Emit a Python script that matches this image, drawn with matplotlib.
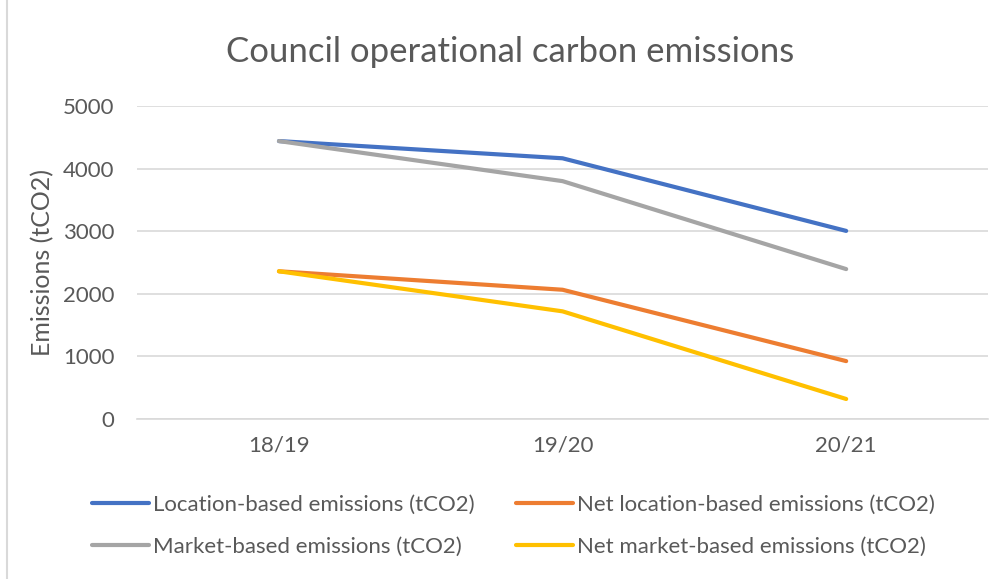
import matplotlib.pyplot as plt
from matplotlib.lines import Line2D

years = ["18/19", "19/20", "20/21"]
location_based = [4440, 4165, 3005]
net_location_based = [2360, 2065, 925]
market_based = [4440, 3800, 2395]
net_market_based = [2360, 1720, 320]

TEXT = "#595959"
GRID = "#D9D9D9"

plt.rcParams["font.family"] = ["Lato", "DejaVu Sans"]

fig = plt.figure(figsize=(10.01, 5.79), dpi=100)
ax = fig.add_axes([0.137, 0.2763, 0.850, 0.5406])

x = range(len(years))
series = [
    ("Location-based emissions (tCO2)", location_based, "#4472C4"),
    ("Net location-based emissions (tCO2)", net_location_based, "#ED7D31"),
    ("Market-based emissions (tCO2)", market_based, "#A5A5A5"),
    ("Net market-based emissions (tCO2)", net_market_based, "#FFC000"),
]
lines = {}
for label, values, color in series:
    (ln,) = ax.plot(x, values, color=color, lw=3.0, solid_capstyle="round",
                    solid_joinstyle="round", label=label)
    lines[label] = ln

ax.set_xlim(-0.5, 2.5)
ax.set_ylim(0, 5000)
ax.set_yticks(range(0, 5001, 1000))
ax.set_xticks(list(x))
ax.set_xticklabels(years)
ax.grid(axis="y", color=GRID, lw=1.2)
ax.set_axisbelow(True)
for s in ["top", "right", "left"]:
    ax.spines[s].set_visible(False)
ax.spines["bottom"].set_color(GRID)
ax.spines["bottom"].set_linewidth(1.2)
ax.tick_params(axis="both", length=0, colors=TEXT, labelsize=16)
ax.tick_params(axis="y", pad=16.5)
ax.tick_params(axis="x", pad=12)

ax.set_ylabel("Emissions (tCO2)", color=TEXT, fontsize=18, labelpad=6)
fig.text(0.51, 0.91, "Council operational carbon emissions", ha="center",
         va="center", color=TEXT, fontsize=25)

order = ["Location-based emissions (tCO2)", "Market-based emissions (tCO2)",
         "Net location-based emissions (tCO2)", "Net market-based emissions (tCO2)"]
leg = fig.legend([lines[k] for k in order], order, ncol=2, loc="center",
                 bbox_to_anchor=(0.513, 0.0915),
                 frameon=False, fontsize=16, labelcolor=TEXT,
                 handlelength=2.55, handletextpad=0.18, columnspacing=1.9,
                 labelspacing=1.0, borderpad=0)

# chart frame edge visible on the left
fig.add_artist(Line2D([0.007, 0.007], [0, 1], color=GRID, lw=1.5,
                      transform=fig.transFigure))

fig.savefig("out.png", dpi=100, facecolor="white")
